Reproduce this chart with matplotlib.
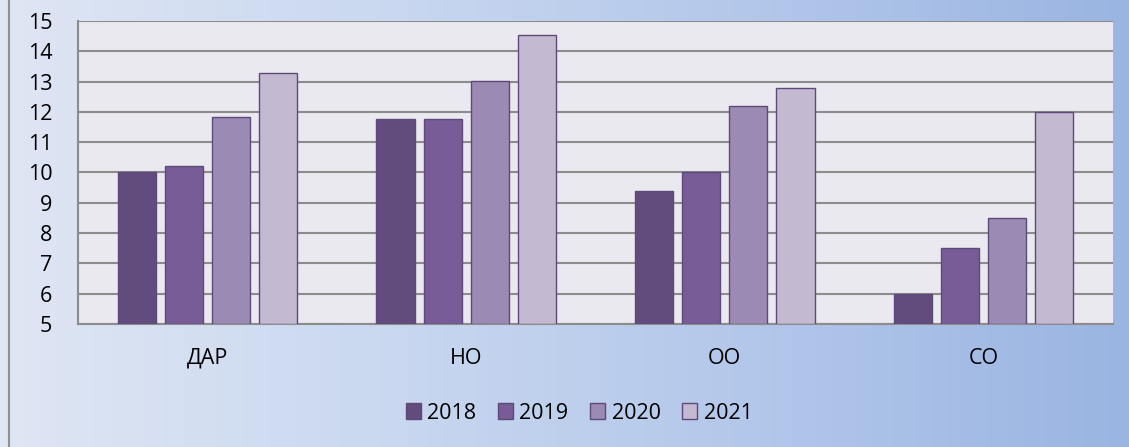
import numpy as np
import matplotlib.pyplot as plt
from matplotlib.colors import LinearSegmentedColormap

categories = ['ДАР', 'НО', 'ОО', 'СО']
years = ['2018', '2019', '2020', '2021']
values_2018 = [10.0, 11.77, 9.4, 6.0]
values_2019 = [10.2, 11.77, 10.0, 7.5]
values_2020 = [11.83, 13.03, 12.2, 8.5]
values_2021 = [13.28, 14.52, 12.8, 12.0]
series = [values_2018, values_2019, values_2020, values_2021]
colors = ['#624c7d', '#775c97', '#9b8ab4', '#c3b9d1']

plt.rcParams['font.family'] = ['Open Sans', 'DejaVu Sans']

fig = plt.figure(figsize=(11.29, 4.47), dpi=100)

# gradient background
bg = fig.add_axes([0, 0, 1, 1], zorder=-10)
cmap = LinearSegmentedColormap.from_list('bg', ['#dfe6f4', '#cad8f0', '#b3c7ea', '#9ab5e2'])
bg.imshow(np.linspace(0, 1, 256)[None, :], aspect='auto', cmap=cmap, extent=[0, 1, 0, 1])
bg.axvline(0.008, color='#8f8f8f', lw=1.5)
bg.set_xlim(0, 1)
bg.set_ylim(0, 1)
bg.axis('off')

ax = fig.add_axes([0.0691, 0.2752, 0.9167, 0.678])
ax.set_facecolor('#ebe9f0')

x = np.arange(len(categories))
width = 0.147
step = 0.182
for i, (vals, c, yr) in enumerate(zip(series, colors, years)):
    ax.bar(x + (i - 1.5) * step, np.array(vals) - 5, bottom=5, width=width,
           color=c, edgecolor='#5e4a7a', linewidth=1, label=yr, zorder=3)

ax.set_xlim(-0.5, 3.5)
ax.set_ylim(5, 15)
ax.set_yticks(range(5, 16))
ax.set_xticks(x)
ax.set_xticklabels(categories)
ax.grid(axis='y', color='#8c8c8c', lw=1.5, zorder=1)
ax.tick_params(length=0, labelsize=15.5)
ax.tick_params(axis='y', pad=18.5)
ax.tick_params(axis='x', pad=17)
for s in ['top', 'right']:
    ax.spines[s].set_visible(False)
for s in ['left', 'bottom']:
    ax.spines[s].set_color('#8c8c8c')
    ax.spines[s].set_linewidth(1.5)

fig.legend(loc='center', bbox_to_anchor=(0.513, 0.076), ncol=4, frameon=False,
           fontsize=15.5, handlelength=0.7, handleheight=0.7, handletextpad=0.3,
           columnspacing=1.0)

fig.savefig('out.png', dpi=100)
